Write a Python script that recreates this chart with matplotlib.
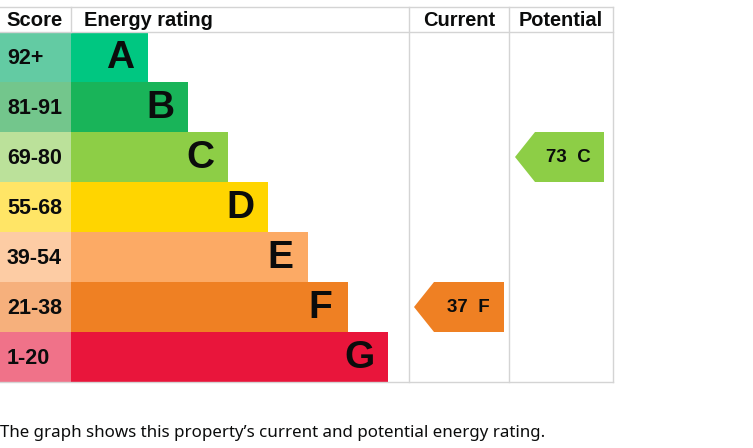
import matplotlib
matplotlib.use("Agg")
from matplotlib import pyplot as plt
from matplotlib.patches import Rectangle, Polygon

bands = ["A", "B", "C", "D", "E", "F", "G"]
scores = ["92+", "81-91", "69-80", "55-68", "39-54", "21-38", "1-20"]
band_colours = ["#00c781", "#19b459", "#8dce46", "#ffd500", "#fcaa65", "#ef8023", "#e9153b"]
score_colours = ["#63cba3", "#73c68c", "#bbe19a", "#ffe566", "#fdcca4", "#f6b07c", "#f07289"]
band_floor = [92, 81, 69, 55, 39, 21, 1]
current = 37
potential = 73
footer = "The graph shows this property\u2019s current and potential energy rating."

W, H = 753, 448
fig = plt.figure(figsize=(W / 100, H / 100), dpi=100)
ax = fig.add_axes([0, 0, 1, 1])
ax.set_xlim(0, W)
ax.set_ylim(H, 0)
ax.axis("off")

top, head_h, row_h = 7, 25, 50
x_score, x_bar, x_cur, x_pot, x_end = 0, 71, 409, 509, 613
grid = "#d4d4d4"
bold = dict(family="Liberation Sans", weight="bold", color="#0b0c0c")


def band_of(value):
    for i, f in enumerate(band_floor):
        if value >= f:
            return i
    return len(band_floor) - 1


y0 = top + head_h
# grid lines
ax.plot([x_score, x_end], [top, top], color=grid, lw=1)
ax.plot([x_score, x_end], [y0, y0], color=grid, lw=1)
ax.plot([x_score, x_end], [y0 + 7 * row_h, y0 + 7 * row_h], color=grid, lw=1)
ax.plot([x_bar, x_bar], [top, y0], color=grid, lw=1)
for x in (x_cur, x_pot, x_end):
    ax.plot([x, x], [top, y0 + 7 * row_h], color=grid, lw=1)

# headers
hy = top + head_h / 2 + 1
ax.text(6, hy, "Score", fontsize=14.6, va="center", ha="left", **bold)
ax.text(84, hy, "Energy rating", fontsize=14.4, va="center", ha="left", **bold)
ax.text((x_cur + x_pot) / 2, hy, "Current", fontsize=14.4, va="center", ha="center", **bold)
ax.text((x_pot + x_end) / 2, hy, "Potential", fontsize=14.4, va="center", ha="center", **bold)

# bands
for i, (b, s) in enumerate(zip(bands, scores)):
    y = y0 + i * row_h
    ax.add_patch(Rectangle((x_score, y), x_bar - x_score, row_h, color=score_colours[i], lw=0))
    bar_end = x_bar + 77 + 40 * i
    ax.add_patch(Rectangle((x_bar, y), bar_end - x_bar, row_h, color=band_colours[i], lw=0))
    ax.text(7, y + row_h / 2 + 1, s, fontsize=15.5, va="center", ha="left", **bold)
    ax.text(bar_end - 28, y + row_h / 2 + 1, b, fontsize=28, va="center", ha="center", **bold)


def pointer(value, left, right):
    i = band_of(value)
    y = y0 + i * row_h
    tip = 20
    pts = [(left, y + row_h / 2), (left + tip, y), (right, y), (right, y + row_h), (left + tip, y + row_h)]
    ax.add_patch(Polygon(pts, closed=True, color=band_colours[i], lw=0))
    ax.text((left + tip + right) / 2 - 1, y + row_h / 2 + 1, f"{value}  {bands[i]}",
            fontsize=13.5, va="center", ha="center", **bold)


pointer(current, x_cur + 5, x_pot - 5)
pointer(potential, x_pot + 6, x_end - 9)

ax.text(0, 433, footer, fontsize=12.2, va="center", ha="left", family="Noto Sans", color="#0b0c0c")

fig.savefig("out.png", dpi=100)
